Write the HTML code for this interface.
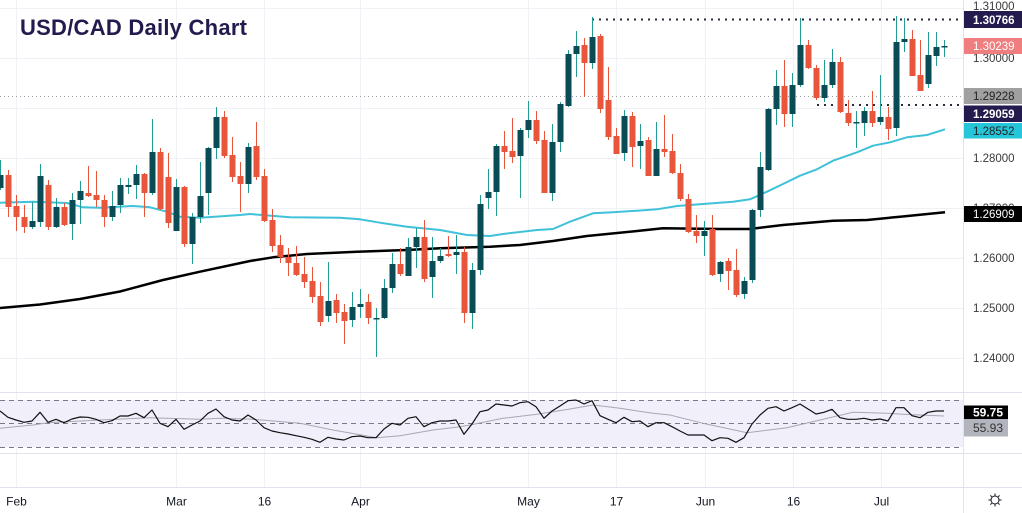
<!DOCTYPE html>
<html><head><meta charset="utf-8"><style>
html,body{margin:0;padding:0;background:#fff;}
svg{display:block;font-family:"Liberation Sans",Arial,sans-serif;}
</style></head><body>
<svg width="1022" height="513" viewBox="0 0 1022 513" xmlns="http://www.w3.org/2000/svg">
<rect width="1022" height="513" fill="#fff"/>
<!-- grid -->
<g stroke="#eef1f6" stroke-width="1">
<path d="M0 8.5H963M0 58.5H963M0 108.5H963M0 158.5H963M0 208.5H963M0 258.5H963M0 308.5H963M0 358.5H963"/>
<path d="M16.5 0V487M176.5 0V487M264.5 0V487M360.5 0V487M528.5 0V487M616.5 0V487M705.5 0V487M793.5 0V487M881.5 0V487"/>
</g>
<g stroke="#e0e3eb" stroke-width="1">
<path d="M0 392.5H1022M0 453.5H1022M0 487.5H1022M963.5 0V513"/>
</g>
<!-- RSI band -->
<rect x="0" y="400" width="963" height="47" fill="#f1eff9"/>
<g stroke="#787b86" stroke-width="1" stroke-dasharray="5 4" fill="none">
<path d="M0 400.5H963M0 423.5H963M0 447.5H963"/>
</g>
<!-- price line dotted gray -->
<path d="M0 96.5H963" stroke="#a0a0a8" stroke-width="1" stroke-dasharray="1 3"/>
<!-- navy dotted levels -->
<path d="M592 19.5H963" stroke="#2a2a3a" stroke-width="2" stroke-dasharray="2 5"/>
<path d="M817 105H963" stroke="#2a2a3a" stroke-width="2" stroke-dasharray="2 5"/>
<!-- MAs -->
<polyline fill="none" stroke="#000" stroke-width="2.5" stroke-linejoin="round" points="0,308 40,304.5 80,299 120,291.5 163,280 200,271.7 250,261 273,257.3 307,254 357,251.7 407,250 440,248.3 490,246.7 520,245 553,241 587,236 637,231 663,228.3 720,229 750,229 783,225 833,220.7 867,220 900,216.7 945,212.3"/>
<polyline fill="none" stroke="#3fc1d9" stroke-width="2" stroke-linejoin="round" points="0,202.7 33,201.7 67,203 83,207.3 100,207.7 133,206 150,207.3 167,211.7 180,216.7 200,217.7 240,215 250,214 290,217.3 340,217.7 360,219.3 380,222.7 407,226.7 440,230 467,235 490,236 503,234 537,230 553,229 570,221.7 593,213.3 613,212.3 637,210.7 657,209.3 677,206 703,204 733,201.7 750,199.3 767,191.7 783,184 800,175.7 817,169.3 833,160.7 857,152.3 873,145.7 890,142.3 907,137.3 927,135 945,129.3"/>
<!-- up wicks -->
<path fill="none" stroke="#229c93" stroke-width="1" d="M0.5 160V190M32.5 202V229M40.5 164V227M56.5 198V228M72.5 193V240M80.5 181V224M112.5 191V221M120.5 178V213M128.5 178V194M136.5 165V199M152.5 119V195M176.5 179V231M192.5 213V264M200.5 162V223M208.5 147V215M216.5 107V159M248.5 143V193M328.5 262V322M352.5 292V327M360.5 289V318M376.5 308V357M384.5 279V319M392.5 253V293M408.5 238V276M416.5 228V268M432.5 237V298M440.5 248V263M456.5 235V274M472.5 263V329M480.5 195V275M488.5 169V209M496.5 144V216M520.5 128V198M528.5 101V138M552.5 124V201M560.5 102V152M568.5 50V107M576.5 31V77M592.5 17V69M624.5 110V161M640.5 124V169M656.5 122V176M704.5 221V256M720.5 261V282M744.5 277V299M752.5 209V283M760.5 152V217M768.5 108V171M776.5 70V125M792.5 73V127M800.5 18V87M824.5 60V102M832.5 49V88M856.5 111V148M864.5 107V136M880.5 75V125M896.5 16V136M904.5 18V52M928.5 32V88M936.5 32V66M944.5 40V57"/>
<!-- up bodies -->
<path fill="#0a4c55" d="M-2.5 175h6V188h-6zM29.5 221h6V227h-6zM37.5 176h6V222h-6zM53.5 207h6V227h-6zM69.5 200h6V224h-6zM77.5 191h6V200h-6zM109.5 206h6V217h-6zM117.5 185h6V205h-6zM125.5 185h6V187h-6zM133.5 174h6V185h-6zM149.5 152h6V193h-6zM173.5 187h6V231h-6zM189.5 217h6V244h-6zM197.5 196h6V217h-6zM205.5 148h6V193h-6zM213.5 117h6V148h-6zM245.5 147h6V184h-6zM325.5 301h6V316h-6zM349.5 307h6V320h-6zM357.5 304h6V307h-6zM373.5 318h6V319.5h-6zM381.5 288h6V318h-6zM389.5 264h6V288h-6zM405.5 247h6V276h-6zM413.5 237h6V247h-6zM429.5 261h6V277h-6zM437.5 256h6V261h-6zM453.5 252h6V255h-6zM469.5 270h6V313h-6zM477.5 204h6V270h-6zM485.5 192h6V198h-6zM493.5 146h6V192h-6zM517.5 130h6V156h-6zM525.5 120h6V130h-6zM549.5 142h6V193h-6zM557.5 104h6V142h-6zM565.5 54h6V106h-6zM573.5 46h6V54h-6zM589.5 37h6V63h-6zM621.5 116h6V153h-6zM637.5 141h6V146h-6zM653.5 149h6V176h-6zM701.5 231h6V236h-6zM717.5 262h6V274h-6zM741.5 281h6V294h-6zM749.5 210h6V280h-6zM757.5 167h6V210h-6zM765.5 109h6V170h-6zM773.5 86h6V109h-6zM789.5 85h6V114h-6zM797.5 45h6V85h-6zM821.5 85h6V98h-6zM829.5 62h6V85h-6zM853.5 122h6V123.5h-6zM861.5 111h6V123h-6zM877.5 117h6V122h-6zM893.5 42h6V128h-6zM901.5 39h6V42h-6zM925.5 55h6V84h-6zM933.5 47h6V56h-6zM941.5 46h6V47.5h-6z"/>
<!-- down wicks -->
<path fill="none" stroke="#e8553a" stroke-width="1" d="M8.5 170V217M16.5 195V231M24.5 205V233M48.5 180V230M64.5 203V226M88.5 166V197M96.5 171V207M104.5 195V227M144.5 173V217M160.5 148V210M168.5 153V228M184.5 186V247M224.5 111V158M232.5 137V182M240.5 162V212M256.5 122V180M264.5 169V222M272.5 209V252M280.5 235V263M288.5 248V276M296.5 246V276M304.5 257V288M312.5 267V303M320.5 282V326M336.5 294V323M344.5 304V344M368.5 294V324M400.5 248V276M424.5 220V282M448.5 236V257M464.5 247V323M504.5 131V169M512.5 118V163M536.5 111V144M544.5 131V193M584.5 38V97M600.5 34V113M608.5 67V140M616.5 128V154M632.5 112V167M648.5 137V176M664.5 115V157M672.5 134V174M680.5 164V201M688.5 194V233M696.5 215V243M712.5 215V276M728.5 258V290M736.5 249V297M784.5 60V127M808.5 40V69M816.5 65V100M840.5 57V113M848.5 100V126M872.5 91V127M888.5 107V140M912.5 30V76M920.5 40V91"/>
<!-- down bodies -->
<path fill="#e8553a" d="M5.5 175h6V207h-6zM13.5 206h6V217h-6zM21.5 217h6V227h-6zM45.5 185h6V227h-6zM61.5 207h6V225h-6zM85.5 193h6V196h-6zM93.5 195h6V200h-6zM101.5 200h6V217h-6zM141.5 174h6V193h-6zM157.5 152h6V209h-6zM165.5 177h6V223h-6zM181.5 187h6V244h-6zM221.5 117h6V156h-6zM229.5 155h6V177h-6zM237.5 176h6V184h-6zM253.5 146h6V177h-6zM261.5 176h6V221h-6zM269.5 220h6V246h-6zM277.5 245h6V257h-6zM285.5 257h6V263h-6zM293.5 263h6V275h-6zM301.5 274h6V282h-6zM309.5 281h6V297h-6zM317.5 296h6V322h-6zM333.5 300h6V313h-6zM341.5 312h6V321h-6zM365.5 302h6V318h-6zM397.5 264h6V274h-6zM421.5 237h6V279h-6zM445.5 254h6V256h-6zM461.5 252h6V313h-6zM501.5 146h6V152h-6zM509.5 151h6V157h-6zM533.5 120h6V141h-6zM541.5 140h6V193h-6zM581.5 45h6V63h-6zM597.5 36h6V109h-6zM605.5 100h6V137h-6zM613.5 136h6V154h-6zM629.5 116h6V147h-6zM645.5 140h6V176h-6zM661.5 149h6V152h-6zM669.5 151h6V173h-6zM677.5 173h6V199h-6zM685.5 199h6V232h-6zM693.5 231h6V236h-6zM709.5 229h6V275h-6zM725.5 261h6V271h-6zM733.5 270h6V295h-6zM781.5 86h6V114h-6zM805.5 45h6V68h-6zM813.5 68h6V98h-6zM837.5 62h6V112h-6zM845.5 113h6V123h-6zM869.5 111h6V123h-6zM885.5 117h6V129h-6zM909.5 39h6V76h-6zM917.5 75h6V91h-6z"/>
<!-- RSI -->
<polyline fill="none" stroke="#a8a8b2" stroke-width="1" points="0,428.3 33,425 48,422.7 100,420 150,417.7 200,419.3 220,418.3 253,419.3 300,423.3 333,430 377,437.7 400,435.7 433,430 460,426.7 470,425 503,418.3 537,414.3 570,409 593,405 620,408.3 653,413.3 670,415 703,423.3 747,432.7 787,427.7 820,420 853,412.3 887,413.3 903,414.3 944,416"/>
<polyline fill="none" stroke="#111" stroke-width="1.2" stroke-linejoin="round" points="0,411 8,417.3 16,420 24,422.3 32,421 40,412.3 48,422.3 56,419.3 64,422.7 72,419 80,417 88,417.3 96,419.3 104,422.7 112,420.7 120,416 128,416 136,413.3 144,417.7 152,410 160,423.3 168,426.7 176,419.3 184,429.3 192,425 200,421 208,413.3 216,409 224,416.7 232,420 240,421 248,415 256,420 264,427.7 272,431 280,432.7 288,434 296,435.7 304,437.3 312,439.3 320,442.3 328,437.3 336,439 344,440 352,436.7 360,436 368,437.7 376,437.7 384,429 392,423.3 400,425 408,418.3 416,416.7 424,426.7 432,422.7 440,421 448,421 456,420 464,434.3 472,424 480,411.7 488,410 496,404 504,405 512,406 520,402.7 528,401.7 536,406.7 544,418.3 552,411 560,406 568,400.7 576,400 584,404 592,400.7 600,415.7 608,419.3 616,422.7 624,417.3 632,421.7 640,421 648,426.7 656,422.7 664,422.7 672,426.7 680,431 688,435 696,435 704,435 712,440.7 720,437.7 728,438.3 736,442.3 744,437.7 752,424 760,415 768,408.3 776,406.7 784,411 792,407.7 800,404 808,409 816,414 824,412.3 832,409.3 840,417.7 848,419.3 856,419.3 864,418.3 872,420 880,419 888,421 896,407.7 904,407.7 912,415.7 920,417.7 928,412.3 936,411 944,411"/>
<!-- title -->
<text x="20" y="35" font-size="22" font-weight="bold" fill="#231a4e" letter-spacing="0.25">USD/CAD Daily Chart</text>
<!-- axis labels -->
<g font-size="11.5" fill="#3a3a3a">
<text x="973" y="10">1.31000</text>
<text x="973" y="62">1.30000</text>
<text x="973" y="162">1.28000</text>
<text x="973" y="212">1.27000</text>
<text x="973" y="262">1.26000</text>
<text x="973" y="312">1.25000</text>
<text x="973" y="362">1.24000</text>
</g>
<rect x="964" y="11" width="58" height="17" fill="#231a4e"/>
<rect x="964" y="38" width="58" height="16" fill="#f07e7e"/>
<rect x="964" y="88" width="58" height="16" fill="#a0a0a0"/>
<rect x="964" y="105.5" width="58" height="16.5" fill="#231a4e"/>
<rect x="964" y="123" width="58" height="15.5" fill="#26c6da"/>
<rect x="964" y="206" width="58" height="16" fill="#000"/>
<g font-size="11.5">
<text x="973" y="24" fill="#fff" font-weight="bold">1.30766</text>
<text x="973" y="50" fill="#fff">1.30239</text>
<text x="973" y="100" fill="#222">1.29228</text>
<text x="973" y="118" fill="#fff" font-weight="bold">1.29059</text>
<text x="973" y="135" fill="#222">1.28552</text>
<text x="973" y="218" fill="#fff">1.26909</text>
</g>
<rect x="964" y="405.5" width="44" height="13.5" fill="#000"/>
<rect x="964" y="419" width="44" height="17.5" fill="#b2b5be"/>
<text x="973" y="416.5" font-size="12" font-weight="bold" fill="#fff">59.75</text>
<text x="973" y="432" font-size="12" fill="#333">55.93</text>
<!-- time axis -->
<g font-size="12" fill="#131722" text-anchor="middle">
<text x="16.5" y="505.5">Feb</text>
<text x="176.5" y="505.5">Mar</text>
<text x="264.5" y="505.5">16</text>
<text x="360.5" y="505.5">Apr</text>
<text x="528.5" y="505.5">May</text>
<text x="616.5" y="505.5">17</text>
<text x="705.5" y="505.5">Jun</text>
<text x="793.5" y="505.5">16</text>
<text x="881.5" y="505.5">Jul</text>
</g>
<!-- gear -->
<g fill="none" stroke="#131722" stroke-width="1">
<circle cx="995" cy="500" r="4"/>
<path d="M995 493.5V495.5M995 504.5V506.5M988.5 500H990.5M999.5 500H1001.5M990.4 495.4L991.8 496.8M998.2 503.2L999.6 504.6M999.6 495.4L998.2 496.8M991.8 503.2L990.4 504.6"/>
</g>
</svg>
</body></html>
